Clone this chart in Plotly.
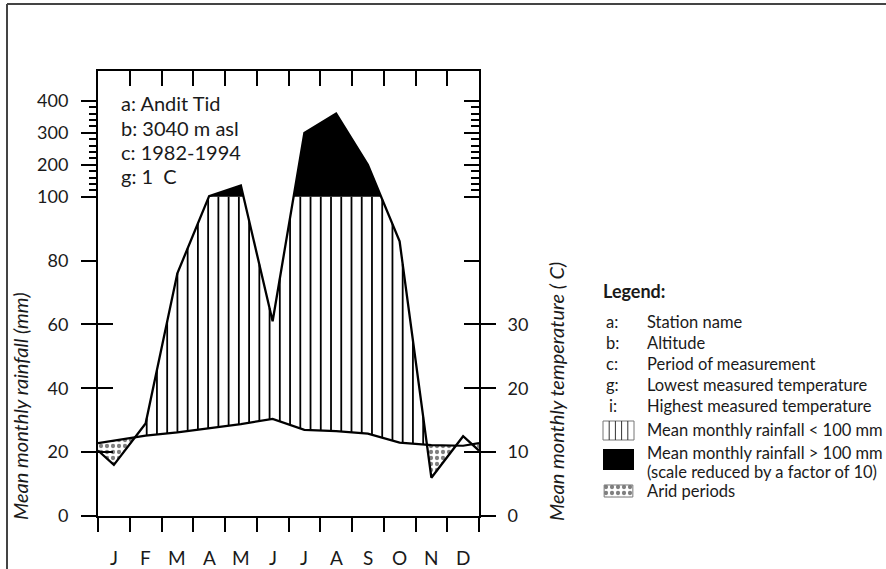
import numpy as np
import plotly.graph_objects as go

# ---------------- data ----------------
months = ['J', 'F', 'M', 'A', 'M', 'J', 'J', 'A', 'S', 'O', 'N', 'D']
rain_mm = [16, 29, 76, 102, 135, 61, 300, 360, 200, 86, 12, 25]
temp_c = [11.8, 12.6, 13.1, 13.7, 14.4, 15.2, 13.5, 13.3, 12.9, 11.5, 11.1, 11.0]
rain_tick_mm = [0, 20, 40, 60, 80, 100, 200, 300, 400]
rain_minor_mm = [120, 140, 160, 180, 220, 240, 260, 280, 320, 340, 360, 380]
temp_tick_c = [0, 10, 20, 30]
station_info = ['a: Andit Tid', 'b: 3040 m asl', 'c: 1982-1994', 'g: 1\u00a0\u00a0C']
legend_keys = ['a:', 'b:', 'c:', 'g:', 'i:']
legend_desc = ['Station name', 'Altitude', 'Period of measurement',
               'Lowest measured temperature', 'Highest measured temperature']
legend_symbols = ['Mean monthly rainfall < 100 mm', 'Mean monthly rainfall > 100 mm',
                  '(scale reduced by a factor of 10)', 'Arid periods']

# ---------------- helpers ----------------
W, H = 886, 569
FONT = 'Lato, "Open Sans", sans-serif'
TXT = '#1a1a1a'


def px(x):
    return x / W


def py(y):
    return 1 - y / H


REDUCE = 10


def rain_disp(mm):
    mm = np.asarray(mm, float)
    return np.where(mm <= 100, mm, 100 + (mm - 100) / REDUCE)


def temp_disp(c):
    return 2 * np.asarray(c, float)


def with_edges(v):
    edge = (v[0] + v[-1]) / 2
    return np.concatenate([[edge], v, [edge]])


xs = np.concatenate([[0], np.arange(12) + 0.5, [12]])
P = with_edges(rain_disp(rain_mm))
T = with_edges(temp_disp(temp_c))

xf = np.linspace(0, 12, 12001)
Pf = np.interp(xf, xs, P)
Tf = np.interp(xf, xs, T)


def region_polys(mask, upper, lower):
    X, Y = [], []
    idx = np.where(mask)[0]
    if len(idx) == 0:
        return X, Y
    splits = np.where(np.diff(idx) > 1)[0] + 1
    for seg in np.split(idx, splits):
        xu = xf[seg]
        X += list(xu) + list(xu[::-1]) + [None]
        Y += list(upper[seg]) + list(lower[seg][::-1]) + [None]
    return X, Y


ax_, ay_ = region_polys(Pf < Tf, Tf, Pf)
bx_, by_ = region_polys(Pf > 100, Pf, np.full_like(Pf, 100.0))

# hatching (vertical lines between temperature and min(rain,100))
HATCH_START, HATCH_STEP, HATCH_END = 1.534 - 0.3225, 0.3225, 10.75
hx, hy = [], []
for h in np.arange(HATCH_START, HATCH_END, HATCH_STEP):
    t = np.interp(h, xs, T)
    p = min(np.interp(h, xs, P), 100)
    if p > t:
        hx += [h, h, None]
        hy += [t, p, None]

DOTS = dict(shape='.', size=6, solidity=0.4, fgcolor='black', bgcolor='white')

fig = go.Figure()
fig.add_trace(go.Scatter(x=ax_, y=ay_, fill='toself', mode='lines', line=dict(width=0),
                         fillpattern=DOTS, fillcolor='white', hoverinfo='skip', showlegend=False))
fig.add_trace(go.Scatter(x=bx_, y=by_, fill='toself', mode='lines', line=dict(width=0),
                         fillcolor='black', hoverinfo='skip', showlegend=False))
fig.add_trace(go.Scatter(x=hx, y=hy, mode='lines', line=dict(color='black', width=1.8),
                         hoverinfo='skip', showlegend=False))
fig.add_trace(go.Scatter(x=xs, y=T, mode='lines', line=dict(color='black', width=2.2),
                         showlegend=False))
fig.add_trace(go.Scatter(x=xs, y=P, mode='lines', line=dict(color='black', width=2.3),
                         showlegend=False))

# legend dotted icon in its own small subplot
fig.add_trace(go.Scatter(x=[0, 1, 1, 0, 0], y=[0, 0, 1, 1, 0], fill='toself', mode='lines',
                         line=dict(color='#777', width=1), fillpattern=DOTS, fillcolor='white',
                         xaxis='x3', yaxis='y7', hoverinfo='skip', showlegend=False))

YTOP = 445 / 3.193
xdom = [px(98), px(479)]
ydom = [py(516), py(71)]
axis_common = dict(showgrid=False, zeroline=False, tickcolor='black', tickwidth=2,
                   automargin=False)

major_disp = list(rain_disp(rain_tick_mm))
minor_disp = list(rain_disp(rain_minor_mm))
cross_disp = list(rain_disp([0, 20, 40, 60]))

fig.update_layout(
    width=W, height=H, autosize=False,
    margin=dict(l=0, r=0, t=0, b=0, pad=0, autoexpand=False),
    paper_bgcolor='white', plot_bgcolor='white',
    font=dict(family=FONT, color=TXT, size=18),
    xaxis=dict(domain=xdom, range=[0, 12], showline=True, linecolor='black', linewidth=2,
               mirror=True, ticks='outside', ticklen=14, tickvals=list(range(13)),
               showticklabels=False, anchor='y', **axis_common),
    xaxis2=dict(overlaying='x', side='top', range=[0, 12], ticks='inside', ticklen=15,
                tickvals=list(range(13)), showticklabels=False, showline=False, anchor='y',
                **axis_common),
    xaxis3=dict(domain=[px(603), px(634)], range=[-0.04, 1.04], visible=False, anchor='y7',
                automargin=False),
    yaxis=dict(domain=ydom, range=[0, YTOP], showline=True, linecolor='black', linewidth=2,
               mirror=True, ticks='outside', ticklen=15, tickvals=major_disp,
               ticktext=[str(v) for v in rain_tick_mm], tickfont=dict(size=18),
               ticklabelstandoff=9, anchor='x', **axis_common),
    yaxis2=dict(overlaying='y', side='left', range=[0, YTOP], ticks='inside', ticklen=15,
                tickvals=cross_disp, showticklabels=False, showline=False, anchor='x',
                **axis_common),
    yaxis3=dict(overlaying='y', side='right', range=[0, YTOP], ticks='outside', ticklen=16,
                tickvals=list(temp_disp(temp_tick_c)), ticktext=[str(v) for v in temp_tick_c],
                tickfont=dict(size=18), ticklabelstandoff=8, showline=False, anchor='x',
                **axis_common),
    yaxis4=dict(overlaying='y', side='right', range=[0, YTOP], ticks='inside', ticklen=15,
                tickvals=major_disp, showticklabels=False, showline=False, anchor='x',
                **axis_common),
    yaxis5=dict(overlaying='y', side='left', range=[0, YTOP], ticks='outside', ticklen=8,
                tickvals=minor_disp, showticklabels=False, showline=False, anchor='x',
                **axis_common),
    yaxis6=dict(overlaying='y', side='right', range=[0, YTOP], ticks='inside', ticklen=8,
                tickvals=minor_disp, showticklabels=False, showline=False, anchor='x',
                **axis_common),
    yaxis7=dict(domain=[py(498), py(484)], range=[-0.08, 1.08], visible=False, anchor='x3',
                automargin=False),
)

# attach dummy traces so overlay axes render
for xa, ya in [('x2', 'y'), ('x', 'y2'), ('x', 'y3'), ('x', 'y4'), ('x', 'y5'), ('x', 'y6')]:
    fig.add_trace(go.Scatter(x=[None], y=[None], xaxis=xa, yaxis=ya, showlegend=False,
                             hoverinfo='skip'))

ann = []
# month labels
for i, m in enumerate(months):
    ann.append(dict(x=i + 0.5, y=py(557), xref='x', yref='paper', text=m, showarrow=False,
                    font=dict(size=19), xanchor='center', yanchor='middle'))
# station info
for i, (s, yy) in enumerate(zip(station_info, [103.5, 127.5, 151.5, 176])):
    ann.append(dict(x=px(119), y=py(yy), xref='paper', yref='paper', text=s, showarrow=False,
                    font=dict(size=20), xanchor='left', yanchor='middle'))
# axis titles
ann.append(dict(x=px(20), y=py(406), xref='paper', yref='paper',
                text='<i>Mean monthly rainfall (mm)</i>', textangle=-90, showarrow=False,
                font=dict(size=20), xanchor='center', yanchor='middle'))
ann.append(dict(x=px(556), y=py(392), xref='paper', yref='paper',
                text='<i>Mean monthly temperature ( C)</i>', textangle=-90, showarrow=False,
                font=dict(size=20), xanchor='center', yanchor='middle'))
# legend
LF = 16.5
ann.append(dict(x=px(601), y=py(291), xref='paper', yref='paper', text='<b>Legend:</b>',
                showarrow=False, font=dict(size=18), xanchor='left', yanchor='middle'))
for i, (k, d) in enumerate(zip(legend_keys, legend_desc)):
    yy = 322 + 21 * i
    ann.append(dict(x=px(604 if k != 'i:' else 607), y=py(yy), xref='paper', yref='paper',
                    text=k, showarrow=False, font=dict(size=LF), xanchor='left',
                    yanchor='middle'))
    ann.append(dict(x=px(645), y=py(yy), xref='paper', yref='paper', text=d, showarrow=False,
                    font=dict(size=LF), xanchor='left', yanchor='middle'))
for s, yy in zip(legend_symbols, [430, 453, 472, 491]):
    ann.append(dict(x=px(645), y=py(yy), xref='paper', yref='paper', text=s, showarrow=False,
                    font=dict(size=LF), xanchor='left', yanchor='middle'))
fig.update_layout(annotations=ann)

shapes = []
# outer border
shapes.append(dict(type='line', xref='paper', yref='paper', x0=px(7), x1=px(900), y0=py(4),
                   y1=py(4), line=dict(color='#444', width=2)))
shapes.append(dict(type='line', xref='paper', yref='paper', x0=px(7), x1=px(7), y0=py(4),
                   y1=py(580), line=dict(color='#444', width=2)))
# hatched icon
shapes.append(dict(type='rect', xref='paper', yref='paper', x0=px(603), x1=px(634), y0=py(440),
                   y1=py(421), line=dict(color='#777', width=1), fillcolor='white'))
for k in range(1, 5):
    xx = 603 + k * 31 / 5
    shapes.append(dict(type='line', xref='paper', yref='paper', x0=px(xx), x1=px(xx),
                       y0=py(440), y1=py(421), line=dict(color='#333', width=1)))
# black icon
shapes.append(dict(type='rect', xref='paper', yref='paper', x0=px(603), x1=px(634), y0=py(470),
                   y1=py(449), line=dict(color='black', width=0), fillcolor='black'))
fig.update_layout(shapes=shapes)

PAGE_FIX = (
    "var d=document.documentElement,b=document.body;"
    "d.style.margin='0';d.style.padding='0';d.style.overflow='hidden';"
    "b.style.margin='0';b.style.padding='0';b.style.overflow='hidden';"
)
fig.write_html('out.html', config={'displayModeBar': False}, post_script=PAGE_FIX)
